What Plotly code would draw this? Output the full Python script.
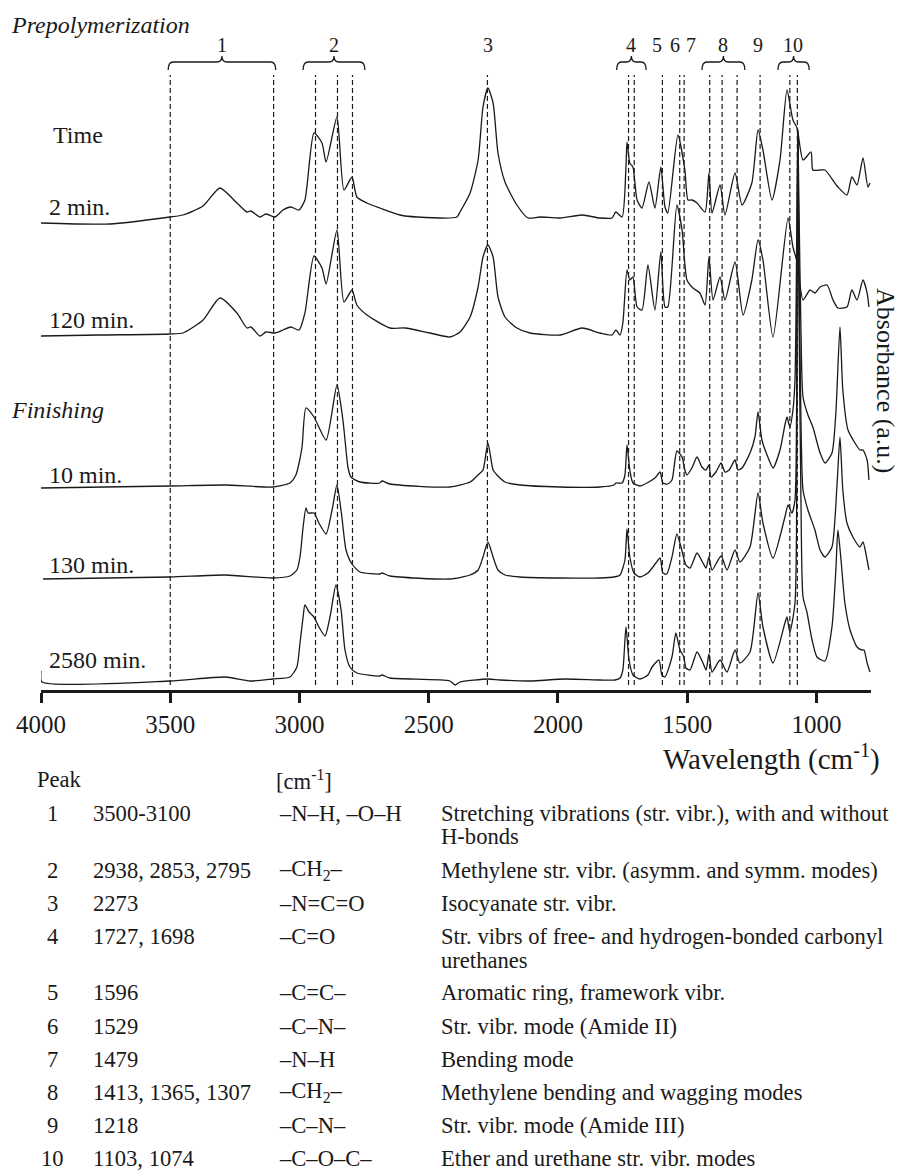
import plotly.graph_objects as go

# ---------------- data ----------------
time_labels = ["2 min.", "120 min.", "10 min.", "130 min.", "2580 min."]
offsets = [467, 354, 203, 112, 9]   # vertical stacking offsets (a.u.)

wn_2min = [4000, 3733, 3501, 3451, 3373, 3308, 3242, 3203, 3188, 3153, 3130, 3095, 3064, 3033, 3002, 2979,
           2944, 2913, 2897, 2855, 2828, 2797, 2778, 2739, 2689, 2611, 2545, 2391, 2379, 2340, 2309, 2290,
           2271, 2251, 2232, 2205, 2159, 2116, 2070, 1992, 1907, 1838, 1791, 1776, 1752, 1737, 1733, 1722,
           1710, 1694, 1675, 1648, 1625, 1602, 1586, 1575, 1536, 1509, 1497, 1482, 1462, 1431, 1416, 1404,
           1373, 1354, 1315, 1288, 1250, 1226, 1207, 1172, 1141, 1114, 1091, 1075, 1052, 1021, 1014, 986,
           967, 917, 882, 863, 843, 820, 801, 793]
ab_2min = [0, -1, 6, 8, 17, 35, 20, 11, 12, 6, 9, 6, 13, 16, 13, 23,
           90, 80, 61, 106, 33, 46, 26, 20, 15, 8, 6, 6, 11, 30, 63, 116,
           135, 120, 70, 41, 18, 5, 6, 5, 8, 5, 5, 11, 6, 56, 81, 60,
           56, 23, 15, 41, 15, 56, 16, 10, 88, 53, 23, 23, 20, 11, 50, 10,
           38, 8, 50, 18, 40, 93, 73, 23, 63, 133, 103, 95, 63, 71, 53, 53,
           53, 36, 28, 46, 38, 65, 36, 40]

wn_120min = [4000, 3772, 3501, 3451, 3373, 3308, 3242, 3203, 3188, 3153, 3130, 3095, 3064, 3033, 3002, 2979,
             2944, 2913, 2897, 2855, 2828, 2797, 2778, 2739, 2650, 2592, 2495, 2418, 2379, 2340, 2309, 2290,
             2271, 2251, 2232, 2205, 2159, 2108, 1992, 1907, 1838, 1791, 1776, 1760, 1749, 1733, 1722, 1710,
             1694, 1675, 1652, 1625, 1602, 1586, 1575, 1540, 1520, 1501, 1478, 1451, 1431, 1416, 1400, 1373,
             1354, 1315, 1284, 1250, 1226, 1207, 1168, 1110, 1091, 1075, 1052, 1025, 1006, 986, 959, 936,
             917, 882, 863, 843, 820, 804, 797]
ab_120min = [0, 1, 2, 3, 16, 38, 23, 8, 9, 0, 4, 3, 6, 9, 6, 23,
             80, 68, 52, 106, 34, 46, 31, 21, 8, 8, 3, -1, 4, 19, 49, 79,
             91, 79, 39, 19, 8, 3, 1, 8, 3, 1, 6, 1, 13, 66, 56, 59,
             29, 26, 71, 26, 84, 29, 29, 131, 106, 56, 48, 43, 31, 79, 36, 59,
             36, 74, 21, 56, 96, 76, -1, 118, 89, 74, 36, 46, 43, 49, 51, 36,
             28, 29, 46, 36, 56, 43, 29]

wn_10min = [4000, 3501, 3288, 3103, 3037, 3014, 3006, 2990, 2975, 2944, 2897, 2855, 2832, 2812, 2801, 2766,
            2689, 2681, 2650, 2418, 2340, 2309, 2290, 2271, 2251, 2236, 2205, 2147, 1992, 1838, 1783, 1776,
            1752, 1741, 1733, 1722, 1710, 1683, 1656, 1625, 1605, 1594, 1575, 1559, 1540, 1520, 1509, 1501,
            1482, 1462, 1443, 1427, 1416, 1408, 1389, 1369, 1354, 1338, 1315, 1304, 1288, 1257, 1238, 1226,
            1211, 1188, 1168, 1141, 1122, 1114, 1103, 1091, 1083, 1075, 1072, 1068, 1060, 1052, 1033, 1014,
            986, 967, 940, 925, 909, 898, 878, 851, 832, 820, 804, 797]
ab_10min = [-1, 1, 2, 0, 4, 12, 19, 40, 79, 70, 47, 102, 67, 19, 10, 5,
            4, 6, 3, 0, 5, 12, 17, 44, 17, 12, 5, 2, 0, 0, 2, 4,
            4, 12, 42, 17, 4, 1, 4, 9, 15, 4, 3, 7, 36, 30, 17, 12,
            19, 30, 20, 17, 22, 10, 15, 24, 15, 17, 27, 17, 19, 34, 50, 75,
            47, 30, 19, 37, 62, 70, 60, 77, 107, 287, 357, 287, 157, 90, 72, 60,
            34, 24, 34, 74, 160, 97, 57, 44, 37, 37, 27, 7]

wn_130min = [3992, 3501, 3288, 3103, 3037, 3010, 2998, 2986, 2975, 2967, 2944, 2925, 2897, 2874, 2855, 2836,
             2820, 2797, 2766, 2689, 2681, 2650, 2418, 2340, 2309, 2290, 2271, 2251, 2232, 2205, 2147, 1992,
             1838, 1783, 1760, 1741, 1733, 1722, 1706, 1683, 1652, 1621, 1605, 1594, 1579, 1559, 1540, 1524,
             1505, 1489, 1462, 1439, 1427, 1416, 1404, 1369, 1346, 1315, 1296, 1257, 1226, 1207, 1168, 1122,
             1110, 1095, 1083, 1075, 1072, 1068, 1060, 1052, 1033, 1006, 986, 967, 940, 921, 909, 898,
             882, 859, 832, 820, 804, 797]
ab_130min = [-1, 1, 3, 0, 2, 8, 21, 51, 70, 65, 65, 55, 44, 68, 93, 61,
             28, 14, 6, 4, 5, 2, -1, 3, 8, 21, 36, 21, 8, 3, 1, 0,
             0, 1, 3, 18, 49, 21, 5, 1, 5, 15, 20, 5, 4, 21, 44, 31,
             13, 10, 25, 15, 10, 21, 8, 22, 8, 28, 16, 31, 85, 55, 20, 61,
             73, 65, 78, 328, 445, 328, 158, 88, 68, 48, 28, 21, 31, 91, 141, 88,
             55, 41, 31, 36, 18, 8]

wn_2580min = [4000, 3996, 3501, 3288, 3191, 3103, 3037, 3010, 2998, 2986, 2979, 2963, 2944, 2925, 2901, 2882,
              2859, 2839, 2824, 2805, 2778, 2689, 2681, 2650, 2418, 2398, 2379, 2271, 2224, 2108, 1973, 1838,
              1779, 1760, 1749, 1737, 1725, 1710, 1683, 1652, 1636, 1609, 1598, 1586, 1559, 1544, 1528, 1513,
              1505, 1489, 1462, 1439, 1427, 1416, 1404, 1373, 1346, 1315, 1296, 1257, 1226, 1207, 1168, 1122,
              1114, 1103, 1083, 1075, 1072, 1068, 1060, 1052, 1037, 1017, 998, 967, 940, 925, 917, 905,
              890, 870, 843, 824, 816, 804, 793]
ab_2580min = [10, -1, 0, 4, 0, 2, 4, 14, 38, 64, 76, 69, 64, 54, 45, 64,
              96, 71, 31, 14, 8, 5, 6, 3, 0, -4, -1, 2, 1, 0, 2, 1,
              1, 3, 11, 54, 21, 6, 2, 6, 14, 21, 6, 4, 24, 48, 31, 24,
              13, 11, 29, 18, 11, 27, 9, 21, 9, 31, 18, 29, 88, 54, 18, 58,
              64, 49, 78, 381, 543, 381, 181, 84, 69, 41, 24, 20, 54, 111, 151, 121,
              78, 51, 34, 31, 31, 18, 9]

spectra_wn = [wn_2min, wn_120min, wn_10min, wn_130min, wn_2580min]
spectra_ab = [ab_2min, ab_120min, ab_10min, ab_130min, ab_2580min]

# peak assignment table
peak_ids = ["1", "2", "3", "4", "5", "6", "7", "8", "9", "10"]
peak_wn_text = ["3500-3100", "2938, 2853, 2795", "2273", "1727, 1698", "1596", "1529", "1479",
                "1413, 1365, 1307", "1218", "1103, 1074"]
peak_groups = ["–N–H, –O–H", "–CH<sub>2</sub>–", "–N=C=O", "–C=O", "–C=C–", "–C–N–", "–N–H",
               "–CH<sub>2</sub>–", "–C–N–", "–C–O–C–"]
peak_desc = [["Stretching vibrations (str. vibr.), with and without", "H-bonds"],
             ["Methylene str. vibr. (asymm. and symm. modes)"],
             ["Isocyanate str. vibr."],
             ["Str. vibrs of free- and hydrogen-bonded carbonyl", "urethanes"],
             ["Aromatic ring, framework vibr."],
             ["Str. vibr. mode (Amide II)"],
             ["Bending mode"],
             ["Methylene bending and wagging modes"],
             ["Str. vibr. mode (Amide III)"],
             ["Ether and urethane str. vibr. modes"]]

# dashed marker lines as drawn in the figure (cm-1), grouped by peak number
marker_lines = [[3500, 3100], [2938, 2853, 2795], [2273], [1727, 1705], [1596], [1529], [1512],
                [1413, 1365, 1307], [1218], [1103, 1074]]
peak_label_wn = [3300, 2868, 2271, 1717, 1617, 1547, 1485, 1361, 1226, 1092]
tick_vals = [4000, 3500, 3000, 2500, 2000, 1500, 1000]

# ---------------- layout helpers ----------------
W, H = 901, 1176
L, R, T, B = 41, 30, 0, 486
PW, PH = W - L - R, H - T - B
X_RANGE = [4000, 789]
Y_RANGE = [0, 690]
INK = "#1a1a1a"
SERIF = "Liberation Serif, Times New Roman, serif"


def pxx(x):
    return (x - L) / PW


def pxy(y):
    return (T + PH - y) / PH


fig = go.Figure()
for wn, ab, off in zip(spectra_wn, spectra_ab, offsets):
    fig.add_trace(go.Scatter(x=wn, y=[off + a for a in ab], mode="lines",
                             line=dict(color=INK, width=1.3, shape="spline", smoothing=0.6),
                             showlegend=False, hoverinfo="skip"))

shapes = []
# dashed peak markers
for grp in marker_lines:
    for w in grp:
        shapes.append(dict(type="line", xref="x", yref="y", x0=w, x1=w, y0=5, y1=615,
                           line=dict(color=INK, width=1.2, dash="5px,3px"), layer="above"))

# curly braces over grouped peaks
brace_pad = {0: 8, 1: 48, 3: 46, 7: 30, 9: 46}
r = 19  # curl radius in cm-1
y_end, y_bar, y_tip = 620, 628, 634
for gi, pad in brace_pad.items():
    xa = max(marker_lines[gi]) + pad
    xb = min(marker_lines[gi]) - pad
    xc = (xa + xb) / 2
    path = (f"M {xa},{y_end} Q {xa},{y_bar} {xa - r},{y_bar} L {xc + r},{y_bar} "
            f"Q {xc},{y_bar} {xc},{y_tip} Q {xc},{y_bar} {xc - r},{y_bar} "
            f"L {xb + r},{y_bar} Q {xb},{y_bar} {xb},{y_end}")
    shapes.append(dict(type="path", xref="x", yref="y", path=path,
                       line=dict(color=INK, width=1.3)))

ann = []
# peak numbers
for pid, wn in zip(peak_ids, peak_label_wn):
    ann.append(dict(x=wn, y=645, xref="x", yref="y", text=pid, showarrow=False,
                    font=dict(family=SERIF, size=20, color=INK), xanchor="center", yanchor="middle"))


def label(text, x, y, size=24, xanchor="left", angle=0):
    ann.append(dict(x=pxx(x), y=pxy(y), xref="paper", yref="paper", text=text, showarrow=False,
                    font=dict(family=SERIF, size=size, color=INK), xanchor=xanchor,
                    yanchor="middle", textangle=angle, borderpad=0))


label("<i>Prepolymerization</i>", 10, 25)
label("Time", 52, 135)
label("<i>Finishing</i>", 10, 410)
for txt, yy in zip(time_labels, [207, 320, 475, 565, 660]):
    label(txt, 48, yy)

label("Wavelength (cm<sup>-1</sup>)", 881, 757, size=29, xanchor="right")
label("Absorbance (a.u.)", 885, 381, size=26, xanchor="center", angle=90)

# table
TS = 22.6
label("Peak", 36, 780, size=TS)
label("[cm<sup>-1</sup>]", 275, 780, size=TS)
y = 813
for pid, wtxt, grp, desc in zip(peak_ids, peak_wn_text, peak_groups, peak_desc):
    label(pid, 52, y, size=TS, xanchor="center")
    label(wtxt, 92, y, size=TS)
    label(grp, 278, y, size=TS)
    for k, line in enumerate(desc):
        label(line, 440, y + 24 * k, size=TS)
    y += 33 + 24 * (len(desc) - 1)

fig.update_layout(
    width=W, height=H, margin=dict(l=L, r=R, t=T, b=B, pad=0),
    paper_bgcolor="white", plot_bgcolor="white",
    shapes=shapes, annotations=ann, showlegend=False,
    xaxis=dict(range=X_RANGE, tickvals=tick_vals, ticks="outside", ticklen=10, tickwidth=2.5,
               tickcolor=INK, showline=True, linewidth=2.5, linecolor=INK, showgrid=False,
               zeroline=False, tickfont=dict(family=SERIF, size=25, color=INK)),
    yaxis=dict(range=Y_RANGE, visible=False, showgrid=False, zeroline=False),
)

fig.write_html("out.html", config={"displayModeBar": False},
               post_script="document.body.style.margin='0';document.body.style.padding='0';")
